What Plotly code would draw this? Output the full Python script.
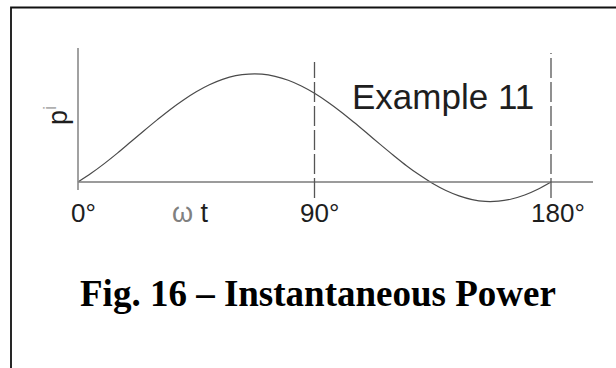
import plotly.graph_objects as go

# Instantaneous power p over one half cycle (angle in degrees)
angle_deg = [0, 5, 10, 15, 20, 25, 30, 35, 40, 45, 50, 55, 60, 65, 70, 75, 80, 85, 90,
             95, 100, 105, 110, 115, 120, 125, 130, 135, 140, 145, 150, 155, 160, 165,
             170, 175, 180]
power = [0.0, 0.068, 0.144, 0.226, 0.313, 0.400, 0.485, 0.567, 0.641, 0.707, 0.762,
         0.804, 0.833, 0.846, 0.845, 0.828, 0.797, 0.752, 0.695, 0.627, 0.551, 0.468,
         0.382, 0.295, 0.210, 0.128, 0.054, -0.012, -0.067, -0.109, -0.138, -0.152,
         -0.150, -0.133, -0.102, -0.057, 0.0]

tick_angles = [0, 90, 180]
tick_labels = ["0°", "90°", "180°"]
marker_angles = [90, 180]

W, H = 616, 368
X0_PX, DEG_PX = 78, 473 / 180      # pixel of 0°, pixels per degree
Y0_PX, UNIT_PX = 182, 127.6        # pixel of p = 0, pixels per unit


def px_to_x(px):
    return (px - X0_PX) / DEG_PX


def px_to_y(py):
    return (Y0_PX - py) / UNIT_PX


def paper_x(px):
    return px / W


def paper_y(py):
    return 1 - py / H


fig = go.Figure()

fig.add_trace(go.Scatter(
    x=angle_deg, y=power, mode="lines",
    line=dict(color="#4a4a4a", width=1.2, shape="spline"),
    hoverinfo="skip", showlegend=False,
))

shapes = []
# frame around the figure
shapes.append(dict(type="rect", xref="paper", yref="paper",
                   x0=paper_x(11), x1=1.05, y0=-0.05, y1=paper_y(7.5),
                   line=dict(color="#111", width=1.8)))
# horizontal (ωt) axis
shapes.append(dict(type="line", xref="x", yref="y",
                   x0=0, x1=px_to_x(593), y0=0, y1=0,
                   line=dict(color="#7a7a7a", width=1.6)))
# vertical (p) axis
shapes.append(dict(type="line", xref="x", yref="y",
                   x0=0, x1=0, y0=px_to_y(190), y1=px_to_y(48),
                   line=dict(color="#8a8a8a", width=1.6)))
# dashed markers at 90° and 180°
for a, top in zip(marker_angles, [62, 53]):
    shapes.append(dict(type="line", xref="x", yref="y",
                       x0=a, x1=a, y0=px_to_y(198), y1=px_to_y(top),
                       line=dict(color="#555", width=1.3, dash="20px,4px")))

annotations = []
tick_px = {0: 83, 90: 319, 180: 558}
for a, lab in zip(tick_angles, tick_labels):
    annotations.append(dict(
        x=paper_x(tick_px[a]), y=paper_y(213), xref="paper", yref="paper",
        text=lab, showarrow=False, xanchor="center", yanchor="middle",
        font=dict(family="Liberation Sans, Arial", size=26, color="#1e1e1e")))

annotations.append(dict(
    x=paper_x(190), y=paper_y(213), xref="paper", yref="paper",
    text="<span style='color:#808080;font-size:27px'>ω</span> t", showarrow=False,
    xanchor="center", yanchor="middle",
    font=dict(family="Liberation Sans, Arial", size=27, color="#1e1e1e")))

annotations.append(dict(
    x=paper_x(56), y=paper_y(116), xref="paper", yref="paper",
    text="p<sup><span style='color:#b0b0b0'>i</span></sup>", showarrow=False,
    textangle=-90, xanchor="center", yanchor="middle",
    font=dict(family="Liberation Sans, Arial", size=27, color="#1e1e1e")))

annotations.append(dict(
    x=paper_x(443), y=paper_y(96), xref="paper", yref="paper",
    text="Example 11", showarrow=False, xanchor="center", yanchor="middle",
    font=dict(family="Liberation Sans, Arial", size=35, color="#1e1e1e")))

annotations.append(dict(
    x=paper_x(317.5), y=paper_y(293), xref="paper", yref="paper",
    text="<b>Fig. 16 – Instantaneous Power</b>", showarrow=False,
    xanchor="center", yanchor="middle",
    font=dict(family="Liberation Serif, Times New Roman", size=37, color="#000")))

fig.update_layout(
    width=W, height=H,
    margin=dict(l=0, r=0, t=0, b=0, pad=0),
    paper_bgcolor="white", plot_bgcolor="white",
    xaxis=dict(range=[px_to_x(0), px_to_x(W)], visible=False, fixedrange=True),
    yaxis=dict(range=[px_to_y(H), px_to_y(0)], visible=False, fixedrange=True),
    shapes=shapes, annotations=annotations,
    showlegend=False,
)

fig.write_html("out.html")
